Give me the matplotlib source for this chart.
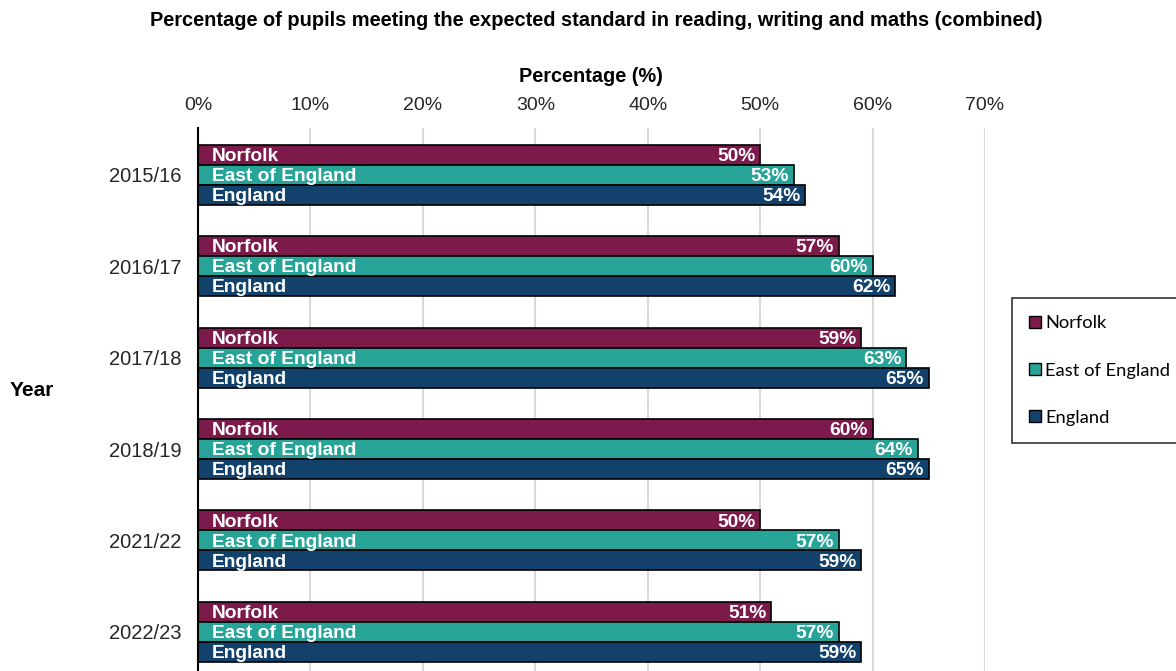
import matplotlib.pyplot as plt
import numpy as np

# KS2 results: reading, writing and maths combined
years = ['2015/16', '2016/17', '2017/18', '2018/19', '2021/22', '2022/23']
series = ['Norfolk', 'East of England', 'England']
norfolk = [50, 57, 59, 60, 50, 51]
east_of_england = [53, 60, 63, 64, 57, 57]
england = [54, 62, 65, 65, 59, 59]
colours = ['#7B1A4B', '#28A397', '#12416B']

plt.rcParams['font.family'] = ['Liberation Sans', 'DejaVu Sans']

fig = plt.figure(figsize=(11.76, 6.71), dpi=100)
ax = fig.add_axes([198 / 1176, 0, 787 / 1176, 1 - 128 / 671])

y = np.arange(len(years))
h = 0.219
values = [norfolk, east_of_england, england]
for i, (name, vals, col) in enumerate(zip(series, values, colours)):
    pos = y + (i - 1) * h
    bars = ax.barh(pos, vals, height=h, color=col, edgecolor='black',
                   linewidth=1.2, label=name, zorder=3)
    for b, v in zip(bars, vals):
        yc = b.get_y() + b.get_height() / 2
        ax.annotate(name, (0, yc), xytext=(10, -1.2), textcoords='offset points',
                    ha='left', va='center', color='white', fontweight='bold',
                    fontsize=13.8, zorder=4)
        ax.annotate(f'{v}%', (v, yc), xytext=(-3.5, -1.2), textcoords='offset points',
                    ha='right', va='center', color='white', fontweight='bold',
                    fontsize=13.8, zorder=4)

ax.set_xlim(0, 70)
ax.set_ylim(5.43, -0.514)
ax.set_xticks(np.arange(0, 71, 10))
ax.set_xticklabels([f'{t}%' for t in range(0, 71, 10)])
ax.set_yticks(y)
ax.set_yticklabels(years)
ax.xaxis.tick_top()
ax.tick_params(axis='both', length=0, colors='#262626')
ax.tick_params(axis='x', pad=10, labelsize=14)
ax.tick_params(axis='y', pad=12, labelsize=14.5)
ax.grid(axis='x', color='#D9D9D9', linewidth=1.5, zorder=0)
for s in ['top', 'right', 'bottom']:
    ax.spines[s].set_visible(False)
ax.spines['left'].set_linewidth(1.5)
ax.spines['left'].set_zorder(5)

fig.text(596 / 1176, 1 - 20 / 671, 'Percentage of pupils meeting the expected standard in reading, writing and maths (combined)',
         ha='center', va='center', fontsize=14.4, fontweight='bold')
fig.text(591 / 1176, 1 - 76 / 671, 'Percentage (%)', ha='center', va='center',
         fontsize=14.3, fontweight='bold')
fig.text(10 / 1176, 1 - 391 / 671, 'Year', ha='left', va='center',
         fontsize=15, fontweight='bold')

leg = fig.legend(loc='upper left', bbox_to_anchor=(1012 / 1176, 1 - 298 / 671),
                 frameon=True, fancybox=False, edgecolor='black',
                 prop={'family': 'Lato', 'size': 13.2},
                 handlelength=0.65, handleheight=0.65, handletextpad=0.2,
                 labelspacing=1.7, borderpad=0.95, borderaxespad=0)
leg.get_frame().set_linewidth(1.2)
for p in leg.get_patches():
    p.set_linewidth(1.0)

fig.savefig('out.png', dpi=100)
